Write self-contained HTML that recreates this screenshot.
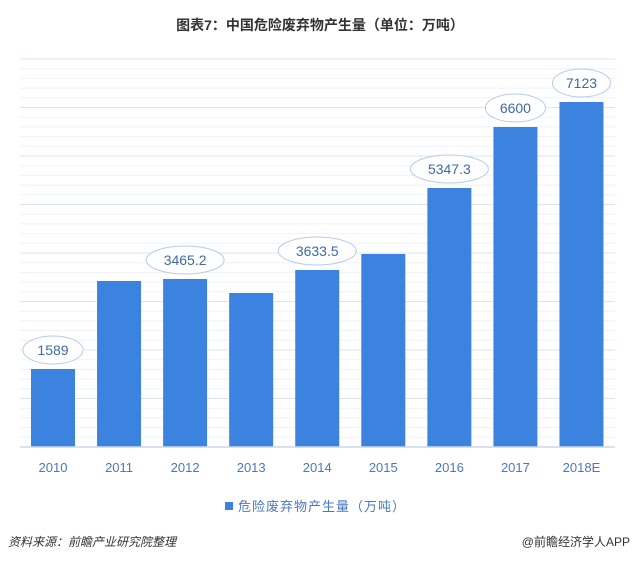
<!DOCTYPE html>
<html><head><meta charset="utf-8"><style>
body{margin:0;background:#fff;}
svg{display:block;font-family:"Liberation Sans","Noto Sans CJK SC",sans-serif;}
</style></head><body>
<svg width="640" height="562" viewBox="0 0 640 562" xmlns="http://www.w3.org/2000/svg">
<rect width="640" height="562" fill="#fff"/>
<text x="320" y="30" text-anchor="middle" font-size="14" font-weight="bold" fill="#333">图表7：中国危险废弃物产生量（单位：万吨）</text>
<path stroke="#eef2f8" stroke-width="1" fill="none" d="M20 437.3H615M20 427.6H615M20 417.9H615M20 408.2H615M20 388.8H615M20 379.1H615M20 369.4H615M20 359.7H615M20 340.3H615M20 330.6H615M20 320.9H615M20 311.2H615M20 291.8H615M20 282.1H615M20 272.4H615M20 262.7H615M20 243.3H615M20 233.6H615M20 223.9H615M20 214.2H615M20 194.8H615M20 185.1H615M20 175.4H615M20 165.7H615M20 146.3H615M20 136.6H615M20 126.9H615M20 117.2H615M20 97.8H615M20 88.1H615M20 78.4H615M20 68.7H615"/>
<path stroke="#dbe5f3" stroke-width="1" fill="none" d="M20 398.5H615M20 350H615M20 301.5H615M20 253H615M20 204.5H615M20 156H615M20 107.5H615M20 59H615"/>
<g fill="#3c83df">
<rect x="31" y="369" width="44" height="78"/>
<rect x="97.06" y="281" width="44" height="166"/>
<rect x="163.12" y="279" width="44" height="168"/>
<rect x="229.18" y="293" width="44" height="154"/>
<rect x="295.24" y="270" width="44" height="177"/>
<rect x="361.3" y="254" width="44" height="193"/>
<rect x="427.36" y="188" width="44" height="259"/>
<rect x="493.42" y="127" width="44" height="320"/>
<rect x="559.48" y="102" width="44" height="345"/>
</g>
<line x1="20" y1="447" x2="615" y2="447" stroke="#c9d8ee" stroke-width="1.5"/>
<g fill="#fff" stroke="#b9cbe6" stroke-width="1">
<ellipse cx="53" cy="350" rx="30" ry="14"/>
<ellipse cx="185.12" cy="260" rx="39" ry="14"/>
<ellipse cx="317.24" cy="251" rx="39" ry="14"/>
<ellipse cx="449.36" cy="169" rx="39" ry="14"/>
<ellipse cx="515.42" cy="108" rx="30" ry="14"/>
<ellipse cx="581.48" cy="83" rx="29" ry="14"/>
</g>
<g font-size="14" fill="#3f6aa8" text-anchor="middle">
<text x="53" y="355">1589</text>
<text x="185.12" y="265">3465.2</text>
<text x="317.24" y="256">3633.5</text>
<text x="449.36" y="174">5347.3</text>
<text x="515.42" y="113">6600</text>
<text x="581.48" y="88">7123</text>
</g>
<g font-size="13" fill="#4a78c0" text-anchor="middle">
<text x="53" y="472">2010</text>
<text x="119.06" y="472">2011</text>
<text x="185.12" y="472">2012</text>
<text x="251.18" y="472">2013</text>
<text x="317.24" y="472">2014</text>
<text x="383.3" y="472">2015</text>
<text x="449.36" y="472">2016</text>
<text x="515.42" y="472">2017</text>
<text x="581.48" y="472">2018E</text>
</g>
<rect x="225" y="502" width="8" height="8" fill="#3c83df"/>
<text x="238" y="511" font-size="13" fill="#4a78c0" letter-spacing="1">危险废弃物产生量（万吨）</text>
<text x="8" y="546" font-size="12" font-style="italic" fill="#333">资料来源：前瞻产业研究院整理</text>
<text x="630" y="546" font-size="12" text-anchor="end" fill="#333">@前瞻经济学人APP</text>
</svg>
</body></html>
